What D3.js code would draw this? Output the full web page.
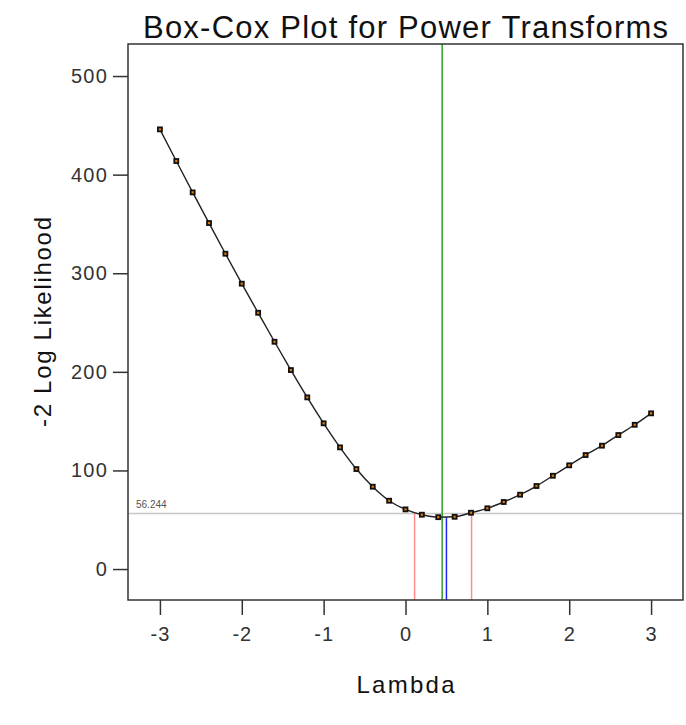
<!DOCTYPE html>
<html>
<head>
<meta charset="utf-8">
<script src="https://cdn.jsdelivr.net/npm/d3@7"></script>
<style>
  body { margin: 0; background: #fff; }
  text { font-family: Arial, 'Liberation Sans', sans-serif; }
</style>
</head>
<body>
<div id="chart"></div>
<script>
// lambda grid and -2 log likelihood
const lambdas = [-3, -2.8, -2.6, -2.4, -2.2, -2, -1.8, -1.6, -1.4, -1.2, -1, -0.8, -0.6, -0.4, -0.2, 0,
  0.2, 0.4, 0.6, 0.8, 1, 1.2, 1.4, 1.6, 1.8, 2, 2.2, 2.4, 2.6, 2.8, 3]
const logLik = [445.9, 413.8, 382.0, 350.9, 319.8, 289.4, 259.9, 230.5, 201.8, 174.1, 147.8, 123.4, 101.4, 83.5, 69.3, 60.5,
  55.1, 52.6, 53.0, 57.1, 61.6, 68.0, 75.4, 84.2, 94.6, 105.2, 115.6, 125.1, 135.9, 146.3, 157.9]

const xTicks = [-3, -2, -1, 0, 1, 2, 3]
const yTicks = [0, 100, 200, 300, 400, 500]

const ciLevel = 56.244
const ciBounds = [0.111, 0.807]
const lambdaBest = 0.448
const lambdaRounded = 0.5
const minLik = 52.6

const margin = { top: 44, left: 128, right: 3, bottom: 125 }
const width = 686 - margin.left - margin.right
const height = 725 - margin.top - margin.bottom

const svgRoot = d3
  .select('#chart')
  .append('svg')
  .attr('width', 686)
  .attr('height', 725)

const svg = svgRoot
  .append('g')
  .attr('transform', 'translate(' + margin.left + ',' + margin.top + ')')

const xPositionScale = d3.scaleLinear().domain([-3.39, 3.39]).range([0, width])
const yPositionScale = d3.scaleLinear().domain([-31.4, 532.5]).range([height, 0])

const datapoints = lambdas.map((l, i) => ({ lambda: l, lik: logLik[i] }))

// reference lines
svg
  .append('line')
  .attr('x1', 0)
  .attr('x2', width)
  .attr('y1', yPositionScale(ciLevel))
  .attr('y2', yPositionScale(ciLevel))
  .attr('stroke', '#c8c8c8')
  .attr('stroke-width', 1.5)

svg
  .append('text')
  .text(ciLevel.toFixed(3))
  .attr('x', 8)
  .attr('y', yPositionScale(ciLevel) - 6)
  .attr('font-size', 10)
  .attr('fill', '#555')

svg
  .selectAll('.ci-line')
  .data(ciBounds)
  .enter()
  .append('line')
  .attr('class', 'ci-line')
  .attr('x1', d => xPositionScale(d))
  .attr('x2', d => xPositionScale(d))
  .attr('y1', height)
  .attr('y2', yPositionScale(ciLevel))
  .attr('stroke', '#ff8c8c')
  .attr('stroke-width', 1.5)

svg
  .append('line')
  .attr('x1', xPositionScale(lambdaBest))
  .attr('x2', xPositionScale(lambdaBest))
  .attr('y1', 0)
  .attr('y2', height)
  .attr('stroke', '#2ca02c')
  .attr('stroke-width', 1.5)

svg
  .append('line')
  .attr('x1', xPositionScale(lambdaRounded))
  .attr('x2', xPositionScale(lambdaRounded))
  .attr('y1', height)
  .attr('y2', yPositionScale(minLik))
  .attr('stroke', '#2020ff')
  .attr('stroke-width', 1.5)

// the curve
const line = d3
  .line()
  .x(d => xPositionScale(d.lambda))
  .y(d => yPositionScale(d.lik))
  .curve(d3.curveMonotoneX)

svg
  .append('path')
  .datum(datapoints)
  .attr('d', line)
  .attr('fill', 'none')
  .attr('stroke', '#222')
  .attr('stroke-width', 1.4)

svg
  .selectAll('.dot')
  .data(datapoints)
  .enter()
  .append('rect')
  .attr('class', 'dot')
  .attr('x', d => xPositionScale(d.lambda) - 2)
  .attr('y', d => yPositionScale(d.lik) - 2)
  .attr('width', 4)
  .attr('height', 4)
  .attr('fill', '#e07b00')
  .attr('stroke', '#111')
  .attr('stroke-width', 1.8)

// frame
svg
  .append('rect')
  .attr('width', width)
  .attr('height', height)
  .attr('fill', 'none')
  .attr('stroke', '#333')
  .attr('stroke-width', 1.5)

// axes
const yAxis = d3.axisLeft(yPositionScale).tickValues(yTicks).tickSize(15).tickPadding(5)
svg
  .append('g')
  .attr('class', 'axis y-axis')
  .call(yAxis)
  .call(g => g.select('.domain').remove())
  .call(g => g.selectAll('.tick line').attr('stroke', '#333').attr('stroke-width', 1.5))
  .call(g =>
    g
      .selectAll('.tick text')
      .attr('font-size', 20)
      .attr('letter-spacing', 1.2)
      .attr('fill', '#333')
      .attr('font-family', "Arial, 'Liberation Sans', sans-serif")
  )

const xAxis = d3
  .axisBottom(xPositionScale)
  .tickValues(xTicks)
  .tickFormat(d => String(d))
  .tickSize(15)
  .tickPadding(12)
svg
  .append('g')
  .attr('class', 'axis x-axis')
  .attr('transform', 'translate(0,' + height + ')')
  .call(xAxis)
  .call(g => g.select('.domain').remove())
  .call(g => g.selectAll('.tick line').attr('stroke', '#333').attr('stroke-width', 1.5))
  .call(g =>
    g
      .selectAll('.tick text')
      .attr('font-size', 20)
      .attr('letter-spacing', 1)
      .attr('fill', '#333')
      .attr('font-family', "Arial, 'Liberation Sans', sans-serif")
  )

// titles
svgRoot
  .append('text')
  .text('Box-Cox Plot for Power Transforms')
  .attr('x', margin.left + width / 2)
  .attr('y', 38)
  .attr('text-anchor', 'middle')
  .attr('font-size', 31)
  .attr('textLength', 525)
  .attr('lengthAdjust', 'spacing')
  .attr('fill', '#111')

svgRoot
  .append('text')
  .text('Lambda')
  .attr('x', margin.left + width / 2)
  .attr('y', 693)
  .attr('text-anchor', 'middle')
  .attr('font-size', 24)
  .attr('textLength', 98)
  .attr('lengthAdjust', 'spacing')
  .attr('fill', '#111')

svgRoot
  .append('text')
  .text('-2 Log Likelihood')
  .attr('transform', 'translate(51,' + (margin.top + height / 2) + ') rotate(-90)')
  .attr('text-anchor', 'middle')
  .attr('font-size', 24)
  .attr('textLength', 210)
  .attr('lengthAdjust', 'spacing')
  .attr('fill', '#111')
</script>
</body>
</html>
